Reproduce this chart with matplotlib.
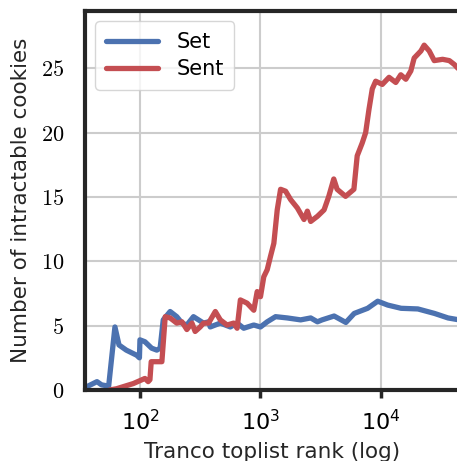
import matplotlib
matplotlib.use("Agg")
import matplotlib.pyplot as plt
from matplotlib.ticker import FuncFormatter, LogLocator, NullLocator

plt.rcParams["mathtext.fontset"] = "cm"

BLUE, RED, SPINE, GRID = "#4c72b0", "#c44e52", "#262626", "#cccccc"

# toplist rank (x) vs. number of intractable cookies (y)
set_rank = [35, 37, 44, 48, 55, 62, 67, 77, 94, 99, 100, 110, 125, 138, 147,
            156, 178, 202, 223, 245, 278, 306, 337, 371, 383, 464, 562, 640,
            726, 880, 1000, 1137, 1334, 1669, 2154, 2610, 2968, 3243, 4083,
            5109, 5992, 7743, 9387, 11370, 14680, 20220, 27800, 35970, 44500]
set_count = [0.2, 0.3, 0.65, 0.4, 0.3, 4.9, 3.5, 3.1, 2.7, 2.5, 3.9, 3.75,
             3.25, 3.1, 3.25, 5.45, 6.1, 5.7, 5.2, 5.05, 5.7, 5.45, 5.2, 5.3,
             4.9, 5.2, 4.9, 5.2, 4.8, 5.05, 4.9, 5.3, 5.7, 5.6, 5.45, 5.6, 5.3,
             5.45, 5.75, 5.25, 5.95, 6.35, 6.9, 6.6, 6.35, 6.3, 5.95, 5.6, 5.45]

sent_rank = [56, 64, 88, 110, 117, 121, 124, 147, 152, 162, 178, 202, 223,
             245, 270, 287, 316, 337, 371, 422, 464, 528, 599, 640, 681, 774,
             880, 939, 1000, 1065, 1137, 1212, 1291, 1377, 1468, 1616, 1778,
             2022, 2297, 2449, 2610, 2968, 3370, 3687, 4055, 4323, 5080, 5957,
             6345, 6985, 7456, 7943, 8464, 9030, 10250, 11660, 13260, 14590,
             16070, 17680, 18840, 21430, 22810, 25120, 27640, 32440, 36870,
             40560, 44500]
sent_count = [0.0, 0.1, 0.5, 0.9, 0.65, 0.8, 2.2, 2.2, 2.2, 5.7, 5.6, 5.2, 5.3,
              4.7, 5.2, 4.55, 4.9, 5.2, 5.2, 6.1, 5.45, 5.05, 5.2, 4.8, 7.0,
              6.75, 6.2, 7.65, 7.25, 8.8, 9.35, 10.4, 11.4, 14.0, 15.6, 15.45,
              14.8, 14.15, 13.25, 13.9, 13.1, 13.5, 14.0, 15.05, 16.4, 15.6,
              15.05, 15.6, 18.2, 19.2, 20.0, 21.8, 23.4, 24.0, 23.75, 24.3,
              23.9, 24.5, 24.15, 24.8, 25.8, 26.35, 26.8, 26.35, 25.6, 25.7,
              25.6, 25.3, 24.9]

fig = plt.figure(figsize=(4.57, 4.61), dpi=100)
ax = fig.add_axes([0.186, 0.154, 0.82, 0.822])

ax.plot(set_rank, set_count, color=BLUE, lw=3.8, label="Set", solid_capstyle="round")
ax.plot(sent_rank, sent_count, color=RED, lw=3.8, label="Sent", solid_capstyle="round")

ax.set_xscale("log")
ax.set_xlim(35, 45000)
ax.set_ylim(0, 29.45)
ax.xaxis.set_major_locator(LogLocator(base=10, numticks=10))
ax.xaxis.set_minor_locator(NullLocator())
ax.set_yticks([0, 5, 10, 15, 20, 25])
ax.yaxis.set_major_formatter(FuncFormatter(lambda v, p: f"${int(v)}$"))
ax.tick_params(axis="x", length=6, width=2.5, color=SPINE, labelsize=16, pad=8)
ax.tick_params(axis="y", length=0, labelsize=16, pad=15)

ax.grid(True, color=GRID, lw=1.5)
ax.set_axisbelow(True)
for s in ax.spines.values():
    s.set_linewidth(3.0)
    s.set_color(SPINE)

ax.set_xlabel("Tranco toplist rank (log)", fontsize=15.5, color=SPINE, labelpad=5)
ax.set_ylabel("Number of intractable cookies", fontsize=15.5, color=SPINE, labelpad=7)

leg = ax.legend(loc="upper left", fontsize=15, handlelength=2.5, frameon=True,
                borderpad=0.5, labelspacing=0.35, handletextpad=0.9, fancybox=True)
leg.get_frame().set_edgecolor(GRID)
for l in leg.get_lines():
    l.set_linewidth(3.8)

fig.savefig("out.png", dpi=100)
